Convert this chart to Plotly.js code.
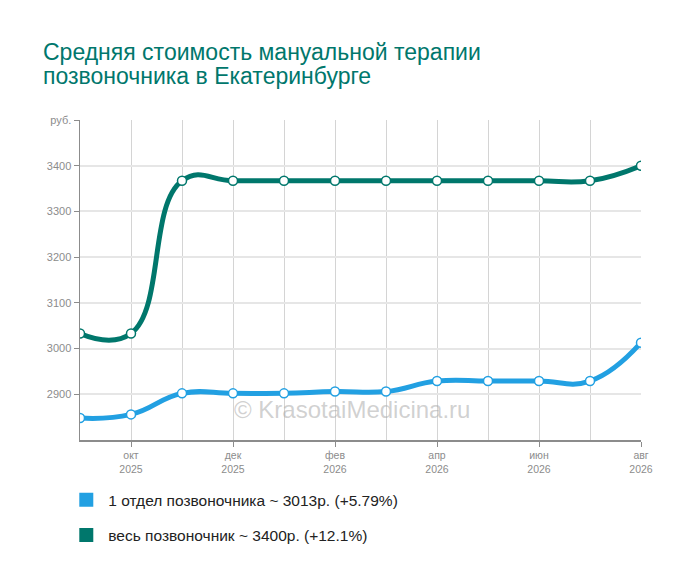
<!DOCTYPE html>
<html>
<head>
<meta charset="utf-8">
<script src="https://cdn.plot.ly/plotly-3.0.1.min.js"></script>
<style>
  html, body { margin: 0; padding: 0; background: #fff; }
  #chart { width: 700px; height: 583px; }
</style>
</head>
<body>
<div id="chart"></div>
<script>
// Months on the x axis (index 0 = сентябрь 2025)
const months = ['сен 2025', 'окт 2025', 'ноя 2025', 'дек 2025', 'янв 2026', 'фев 2026',
                'мар 2026', 'апр 2026', 'май 2026', 'июн 2026', 'июл 2026', 'авг 2026'];
const monthIdx = months.map((_, i) => i);

// Labelled months
const xTickVals = [1, 3, 5, 7, 9, 11];
const xTickText = ['окт<br>2025', 'дек<br>2025', 'фев<br>2026', 'апр<br>2026', 'июн<br>2026', 'авг<br>2026'];

const yTickVals = [2900, 3000, 3100, 3200, 3300, 3400, 3500];
const yTickText = ['2900', '3000', '3100', '3200', '3300', '3400', 'руб.'];

// Series values, руб.
const oneSection = [2848, 2856, 2902, 2902, 2902, 2906, 2906, 2929, 2929, 2929, 2929, 3013];
const wholeSpine = [3033, 3033, 3367, 3367, 3367, 3367, 3367, 3367, 3367, 3367, 3367, 3400];

const seriesNames = [
    '1 отдел позвоночника ~ 3013р. (+5.79%)',
    'весь позвоночник ~ 3400р. (+12.1%)'
];

const titleLines = [
    'Средняя стоимость мануальной терапии',
    'позвоночника в Екатеринбурге'
];

const colors = {
    blue: '#22a0e2',
    teal: '#00776c',
    title: '#00776c',
    axis: '#8c8c8c',
    tick: '#8c8c8c'
};

function lineTrace(y, color) {
    return {
        x: monthIdx,
        y: y,
        type: 'scatter',
        mode: 'lines+markers',
        line: { color: color, width: 5, shape: 'spline', smoothing: 1.3 },
        marker: { size: 9, color: '#ffffff', line: { color: color, width: 1.5 } },
        showlegend: false,
        hoverinfo: 'skip'
    };
}

// Legend-only entries with square swatches
function legendTrace(name, color, group) {
    return {
        x: [null],
        y: [null],
        type: 'scatter',
        mode: 'markers',
        name: name,
        legendgroup: group,
        marker: { symbol: 'square', size: 14, color: color },
        showlegend: true
    };
}

const traces = [
    lineTrace(wholeSpine, colors.teal),
    lineTrace(oneSection, colors.blue),
    legendTrace(seriesNames[0], colors.blue, 'a'),
    legendTrace(seriesNames[1], colors.teal, 'b')
];

// Title drawn as two annotations to keep the tight line spacing
const titleAnnotations = titleLines.map((line, i) => ({
    text: line,
    xref: 'paper',
    yref: 'paper',
    x: -0.0695,
    xanchor: 'left',
    y: [1.2125, 1.1375][i],
    yanchor: 'middle',
    showarrow: false,
    font: { size: 23, color: colors.title }
}));

const layout = {
    width: 700,
    height: 583,
    margin: { t: 120, r: 59, b: 143, l: 80 },
    paper_bgcolor: '#ffffff',
    plot_bgcolor: '#ffffff',
    font: { family: '"Liberation Sans", Arial, sans-serif', size: 11, color: colors.tick },
    xaxis: {
        range: [0, 11],
        tickvals: xTickVals,
        ticktext: xTickText,
        ticks: 'outside',
        ticklen: 5,
        tickcolor: colors.axis,
        tickfont: { size: 10.5, color: colors.tick },
        showgrid: true,
        gridcolor: '#d4d4d4',
        gridwidth: 1,
        minor: { tick0: 0, dtick: 1, showgrid: true, gridcolor: '#d4d4d4', gridwidth: 1, ticks: '' },
        showline: true,
        linecolor: colors.axis,
        linewidth: 1.5,
        zeroline: false,
        fixedrange: true
    },
    yaxis: {
        range: [2800, 3500],
        tickvals: yTickVals,
        ticktext: yTickText,
        ticks: 'outside',
        ticklen: 5,
        tickcolor: colors.axis,
        tickfont: { size: 11, color: colors.tick },
        showgrid: true,
        gridcolor: '#e6e6e6',
        gridwidth: 2,
        showline: true,
        linecolor: colors.axis,
        linewidth: 1.5,
        zeroline: false,
        fixedrange: true
    },
    legend: {
        x: -0.028,
        xanchor: 'left',
        y: -0.135,
        yanchor: 'top',
        font: { size: 15.5, color: '#222222' },
        itemwidth: 34,
        tracegroupgap: 12,
        traceorder: 'grouped',
        bgcolor: 'rgba(0,0,0,0)'
    },
    annotations: titleAnnotations.concat([{
        text: '© KrasotaiMedicina.ru',
        xref: 'paper',
        yref: 'paper',
        x: 0.485,
        y: 0.094,
        yanchor: 'middle',
        showarrow: false,
        font: { size: 24, color: 'rgba(170,170,170,0.55)' }
    }])
};

Plotly.newPlot('chart', traces, layout, { displayModeBar: false, staticPlot: true });
</script>
</body>
</html>
